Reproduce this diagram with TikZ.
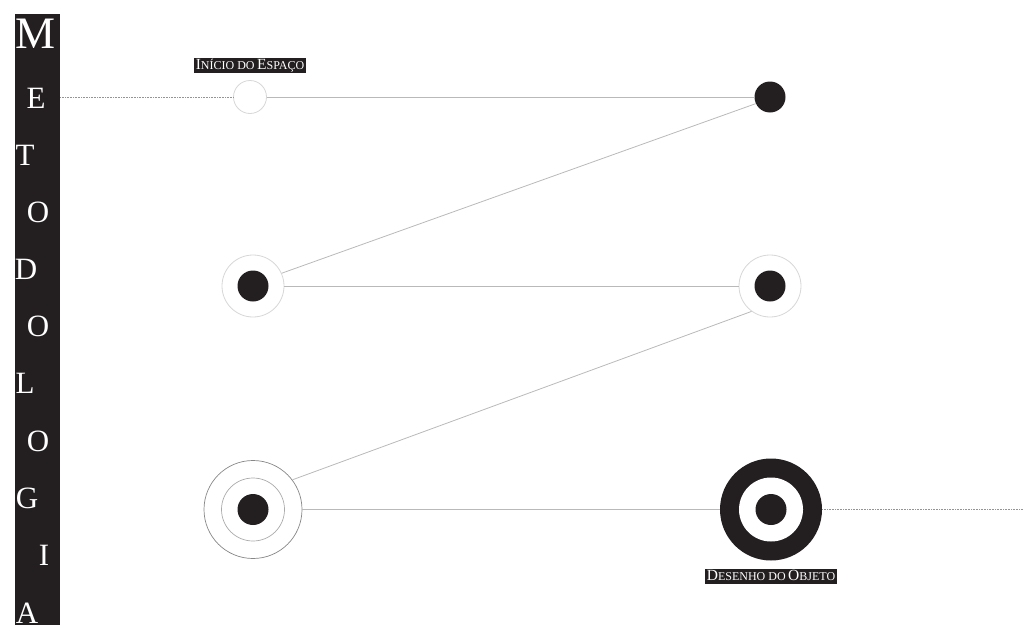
\documentclass[tikz,border=0pt]{standalone}
\usepackage{fontspec}
\setmainfont{Liberation Serif}
\definecolor{ink}{RGB}{35,31,32}
\definecolor{linegray}{RGB}{185,185,185}
\definecolor{ringlight}{RGB}{215,215,215}
\definecolor{ringmid}{RGB}{170,170,170}
\definecolor{ringdark}{RGB}{135,135,135}
\tikzset{
  conn/.style={draw=linegray, line width=0.8pt},
  dotline/.style={draw=linegray!80!black, line width=0.7pt, dash pattern=on 0.7pt off 0.9pt},
  dot/.style={circle, fill=ink, inner sep=0pt, minimum size=31pt},
  ring/.style={circle, draw=ringlight, line width=0.8pt, fill=white, inner sep=0pt, minimum size=62pt},
  letter/.style={text=white, font=\fontsize{31}{31}\selectfont, anchor=base, inner sep=0pt},
  tag/.style={fill=ink, text=white, inner xsep=1.5pt, inner ysep=1pt, text height=10.5pt, text depth=2.5pt}
}
\newcommand{\scA}[1]{{\fontsize{15.5}{15.5}\selectfont #1}}
\newcommand{\scB}[1]{{\fontsize{12}{12}\selectfont #1}}
\begin{document}
\begin{tikzpicture}[x=1pt,y=-1pt]
\useasboundingbox (0,0) rectangle (1024,640);
% vertical bar
\node[fill=ink, minimum width=45pt, minimum height=611pt, inner sep=0pt] (bar) at (37.5,319.5) {};
\node[letter, font=\fontsize{45}{45}\selectfont] (lM) at (36,48) {M};
\node[letter] (lE) at (36,108) {E};
\node[letter] (lT) at (25,165) {T};
\node[letter] (lO1) at (38,222) {O};
\node[letter] (lD) at (26,279) {D};
\node[letter] (lO2) at (38,336) {O};
\node[letter] (lL) at (25,393) {L};
\node[letter] (lO3) at (38,451) {O};
\node[letter] (lG) at (27,508) {G};
\node[letter] (lI) at (44,565) {I};
\node[letter] (lA) at (27,623) {A};

% circles
\node[circle, draw=ringlight, line width=0.8pt, fill=white, inner sep=0pt, minimum size=33pt] (start) at (250,97) {};
\node[dot] (tr) at (770,97) {};
\node[ring] (ml) at (253,286) {};
\node[dot] at (ml.center) {};
\node[ring] (mr) at (770,286) {};
\node[dot] at (mr.center) {};
\node[circle, draw=ringdark, line width=0.7pt, fill=white, inner sep=0pt, minimum size=98pt] (bl) at (253,509.5) {};
\node[circle, draw=ringmid, line width=0.7pt, inner sep=0pt, minimum size=63pt] (blin) at (bl.center) {};
\node[dot] at (bl.center) {};
\node[circle, fill=ink, inner sep=0pt, minimum size=102pt] (br) at (771,509.5) {};
\node[circle, fill=white, inner sep=0pt, minimum size=64pt] (brw) at (br.center) {};
\node[dot] (brd) at (br.center) {};

% labels
\node[tag] (lab1) at (250,65) {\scA{I}\scB{NÍCIO DO} \scA{E}\scB{SPAÇO}};
\node[tag] (lab2) at (771,576.5) {\scA{D}\scB{ESENHO DO} \scA{O}\scB{BJETO}};

% connectors
\coordinate (endr) at (1024,509.5);
\draw[dotline] (start.west -| bar.east) -- (start.west);
\draw[conn] (start.east) -- (tr.west);
\draw[conn] (tr.205) -- (ml.24);
\draw[conn] (ml.east) -- (mr.west);
\draw[conn] (mr.234) -- (bl.37);
\draw[conn] (bl.east) -- (br.west);
\draw[dotline] (br.east) -- (endr);
\end{tikzpicture}
\end{document}
